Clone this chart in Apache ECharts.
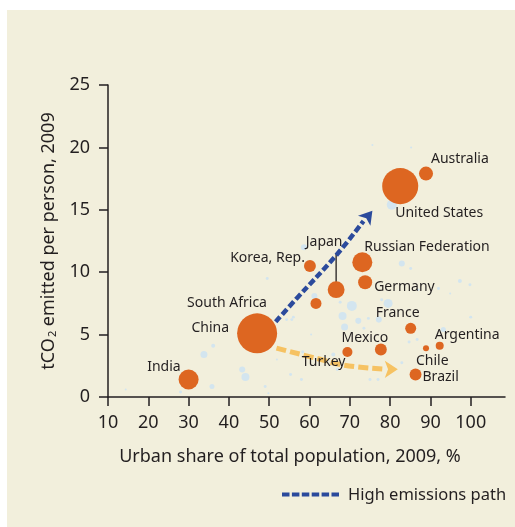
<!DOCTYPE html>
<html>
<head>
<meta charset="utf-8">
<script src="https://cdn.jsdelivr.net/npm/echarts@6/dist/echarts.min.js"></script>
<style>
html,body{margin:0;padding:0;background:#ffffff;}
#chart{width:515px;height:527px;}
</style>
</head>
<body>
<div id="chart"></div>
<script>
// ---- Data ----
const countries = ['China','United States','India','Russian Federation','Japan','Germany','Australia','Korea, Rep.','Mexico','Brazil','South Africa','France','Turkey','Argentina','Chile'];
const urbanShare = [47, 82.5, 30, 73.1, 66.6, 73.8, 88.9, 60.1, 77.7, 86.3, 61.6, 85.1, 69.4, 92.3, 88.9];
const co2PerPerson = [5.1, 16.9, 1.4, 10.8, 8.6, 9.2, 17.9, 10.5, 3.8, 1.8, 7.5, 5.5, 3.6, 4.1, 3.9];
const totalEmissions = [7000, 5700, 1750, 1750, 1250, 860, 860, 620, 620, 620, 530, 530, 440, 280, 160];

// other countries (light blue background dots)
const otherUrban = [36.1,33.8,43.3,44.1,35.8,49.5,49,28,14.4,55.3,54.3,56,58.6,49.8,51.9,82.9,85.1,97.3,99.8,92,87,79.5,77.9,70.5,68.2,72.1,68.7,77.2,74.6,73.5,67.6,93.2,100,60.4,86.7,84.7,82.9,65.9,66.9,75,77,58.3,61.2,87.4,80.4,75.6,85.2,58,55.6,94.9];
const otherCo2 = [4.1,3.4,2.2,1.6,0.85,9.5,0.85,0.4,0.6,1.8,6.2,6.4,12.0,0.3,3.0,10.7,10.3,9.3,9.0,8.7,8.6,7.5,7.8,7.3,6.5,6.1,5.6,6.2,6.3,5.5,7.6,5.4,6.4,5.0,4.6,4.4,2.75,3.4,2.2,1.4,1.4,3.6,8.1,3.0,15.4,20.2,20.0,1.4,6.2,8.3];
const otherEmissions = [70,215,158,280,110,39,39,39,18,39,39,39,158,18,18,158,39,70,39,39,18,354,39,437,280,158,215,158,39,39,39,110,39,18,39,39,39,70,39,39,39,39,158,18,437,18,18,39,39,18];

// illustrative paths (points in data units)
const highPath = [[51.6, 6.03], [56.8, 7.9], [66.7, 11.38], [73.4, 14.1]];
const highArrow = [[70.5, 12.9], [75.6, 14.93]];
const lowPath = [[51.8, 3.92], [61.7, 3.1], [68.4, 2.56], [78.9, 2.22]];
const lowArrow = [[77.5, 2.22], [81.9, 2.22]];

const xTicks = [10,20,30,40,50,60,70,80,90,100];
const legendName = 'High emissions path';

// ---- Styles ----
const FONT = '"Noto Sans", sans-serif';
const TXT = '#231f20';
const BLUE = '#2b4a9c';
const ORANGE_PATH = '#f6c262';
const sizeOf = v => 0.478 * Math.sqrt(v);

// label layout: [align, dx, dy] relative to bubble centre
const labelLayout = {
  'China': ['right', -28, -5],
  'United States': ['left', -5, 27],
  'India': ['right', -8, -13],
  'Russian Federation': ['left', 2, -15],
  'Japan': ['center', -12, -48],
  'Germany': ['left', 9, 5],
  'Australia': ['left', 5, -15],
  'Korea, Rep.': ['right', -5, -8],
  'Mexico': ['center', -16, -12],
  'Brazil': ['left', 7, 2],
  'South Africa': ['right', -49, 0],
  'France': ['center', -13, -15],
  'Turkey': ['right', -2, 10],
  'Argentina': ['left', -5, -11],
  'Chile': ['left', -10, 13]
};

const countryData = countries.map((n, i) => {
  const l = labelLayout[n];
  const r = sizeOf(totalEmissions[i]) / 2;
  return {
    name: n,
    value: [urbanShare[i], co2PerPerson[i], totalEmissions[i]],
    symbolSize: sizeOf(totalEmissions[i]),
    label: { show: true, position: [r + l[1], r + l[2]], align: l[0], verticalAlign: 'middle' }
  };
});
const otherData = otherUrban.map((x, i) => ({
  value: [x, otherCo2[i], otherEmissions[i]],
  symbolSize: sizeOf(otherEmissions[i])
}));
const ji = countries.indexOf('Japan');
const japanLeader = [[urbanShare[ji], co2PerPerson[ji]], [urbanShare[ji], co2PerPerson[ji] + 2.9]];

function arrowHead(pts, color, size) {
  return {
    silent: true, animation: false,
    symbol: ['none', 'arrow'], symbolSize: size,
    label: { show: false },
    lineStyle: { color: color, width: 0, opacity: 1 },
    emphasis: { disabled: true },
    data: [[{ coord: pts[0] }, { coord: pts[1] }]]
  };
}

const chart = echarts.init(document.getElementById('chart'), null, { renderer: 'canvas' });
chart.setOption({
  animation: false,
  backgroundColor: '#ffffff',
  textStyle: { fontFamily: FONT },
  graphic: [
    {
      type: 'rect', z: -10, silent: true,
      shape: { x: 7, y: 10, width: 508, height: 517 },
      style: { fill: '#f2efdc' }
    },
    {
      type: 'line', silent: true, z: 10,
      shape: { x1: 282, y1: 494.5, x2: 340, y2: 494.5 },
      style: { stroke: BLUE, lineWidth: 4, lineDash: [7.5, 2.4] }
    },
    {
      type: 'text', silent: true, z: 10,
      x: 348, y: 495,
      style: { text: legendName, fill: TXT, font: '16.5px ' + FONT, textVerticalAlign: 'middle', verticalAlign: 'middle' }
    }
  ],
  grid: { left: 108, top: 85, width: 397, height: 312, containLabel: false },
  xAxis: {
    type: 'value', min: 10, max: 108.5,
    name: 'Urban share of total population, 2009, %',
    nameLocation: 'middle', nameGap: 51,
    nameTextStyle: { fontSize: 18, color: TXT, fontFamily: FONT, padding: [0, 33, 0, 0] },
    axisLine: { show: true, onZero: false, lineStyle: { color: TXT, width: 1.5 } },
    axisTick: { show: true, length: 9, customValues: xTicks, lineStyle: { color: TXT, width: 1.5 } },
    axisLabel: { customValues: xTicks, fontSize: 18, color: TXT, margin: 17, fontFamily: FONT },
    splitLine: { show: false }
  },
  yAxis: {
    type: 'value', min: 0, max: 25, interval: 5,
    name: '{a|tCO}{s|2}{a| emitted per person, 2009}',
    nameLocation: 'middle', nameGap: 39, nameRotate: 90,
    nameTextStyle: {
      color: TXT, fontFamily: FONT,
      rich: {
        a: { fontSize: 18, color: TXT, fontFamily: FONT },
        s: { fontSize: 11, color: TXT, fontFamily: FONT, padding: [9, 0, 0, 1] }
      }
    },
    axisLine: { show: true, onZero: false, lineStyle: { color: TXT, width: 1.5 } },
    axisTick: { show: true, length: 9, lineStyle: { color: TXT, width: 1.5 } },
    axisLabel: { fontSize: 18, color: TXT, margin: 18, fontFamily: FONT },
    splitLine: { show: false }
  },
  series: [
    {
      type: 'scatter', name: 'Other countries', z: 1,
      data: otherData,
      itemStyle: { color: '#d3e5ef', opacity: 1 },
      silent: true
    },
    {
      type: 'line', name: 'Japan leader', z: 2, silent: true,
      data: japanLeader, symbol: 'none',
      lineStyle: { color: TXT, width: 1.3 }
    },
    {
      type: 'line', name: legendName, z: 3, silent: true,
      data: highPath, symbol: 'none', smooth: 0.4,
      lineStyle: { color: BLUE, width: 4.5, type: [7, 3], cap: 'butt' },
      markLine: arrowHead(highArrow, BLUE, [12, 13])
    },
    {
      type: 'line', name: 'Low path', z: 3, silent: true,
      data: lowPath, symbol: 'none', smooth: 0.4,
      lineStyle: { color: ORANGE_PATH, width: 5, type: [10, 4], cap: 'butt' },
      markLine: arrowHead(lowArrow, ORANGE_PATH, [13, 13])
    },
    {
      type: 'scatter', name: 'Countries', z: 4,
      data: countryData,
      itemStyle: { color: '#dd6621', opacity: 1 },
      label: { color: TXT, fontSize: 14, fontFamily: FONT, formatter: '{b}' }
    }
  ]
});
</script>
</body>
</html>
